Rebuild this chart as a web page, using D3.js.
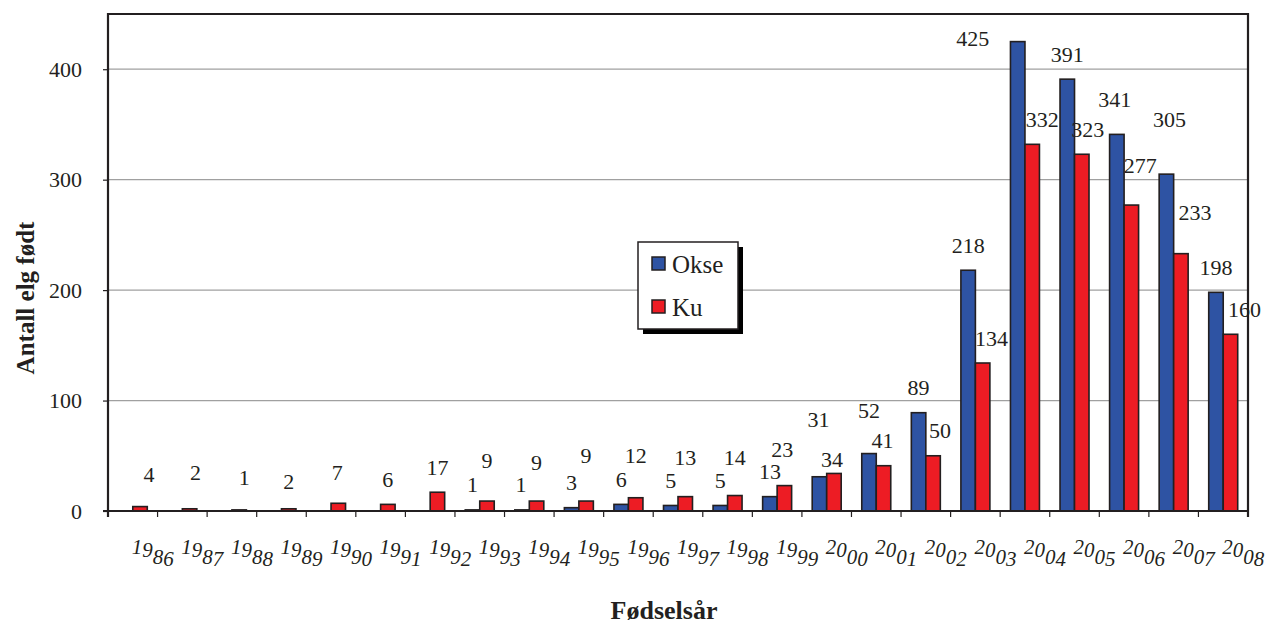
<!DOCTYPE html>
<html>
<head>
<meta charset="utf-8">
<script src="https://cdn.jsdelivr.net/npm/d3@7"></script>
<style>
  html, body { margin: 0; padding: 0; background: #fff; }
  svg { display: block; }
  svg text { font-family: "Times New Roman", "Liberation Serif", Times, "DejaVu Serif", serif; }
</style>
</head>
<body>
<svg id="chart" width="1269" height="626"></svg>
<script>
// Fødselsår (birth year) for each group
const years = ["1986","1987","1988","1989","1990","1991","1992","1993","1994","1995","1996","1997",
               "1998","1999","2000","2001","2002","2003","2004","2005","2006","2007","2008"];
// Antall elg født: bulls (Okse) and cows (Ku)
const okse = [0,0,0,0,0,0,0,1,1,3,6,5,5,13,31,52,89,218,425,391,341,305,198];
const ku   = [4,2,1,2,7,6,17,9,9,9,12,13,14,23,34,41,50,134,332,323,277,233,160];
const seriesNames = ["Okse", "Ku"];
const yTicks = [0, 100, 200, 300, 400];

// Hand placement of value labels relative to the default spot above each bar [dx, dy]
const okseLabelShift = [[0,0],[0,0],[0,0],[0,0],[0,0],[0,0],[0,0],[0,0],[-1,0],[0,0],[0,0],[0,0],
                        [0,0],[0,0],[-1,-32],[0,-18],[0,0],[0,0],[-45,22],[0,0],[-2,-10],[3,-30],[0,0]];
const kuLabelShift   = [[9,-7],[6,-11],[5,-7],[0,-2],[-1,-6],[0,0],[0,0],[0,-16],[0,-14],[0,-21],[0,-17],[0,-14],
                        [0,-13],[-2,-11],[-2,11],[-1,0],[7,0],[9,0],[10,0],[6,0],[9,-15],[14,-16],[14,0]];

const colors = { Okse: "#2E53A3", Ku: "#ED1C24" };
const FONT = "'Times New Roman', 'Liberation Serif', Times, 'DejaVu Serif', serif";
const INK = "#231f20";

const svg = d3.select("#chart");
const plot = { left: 108, right: 1248, top: 14, bottom: 511 };

const x = d3.scaleBand().domain(years).range([plot.left, plot.right]).padding(0);
const xInner = d3.scaleBand().domain(seriesNames).range([0, x.bandwidth()])
  .paddingInner(0).paddingOuter(0.71);
const y = d3.scaleLinear().domain([0, 450]).range([plot.bottom, plot.top]);

// Horizontal gridlines
svg.append("g")
  .selectAll("line")
  .data(yTicks.filter(d => d > 0))
  .join("line")
  .attr("x1", plot.left).attr("x2", plot.right)
  .attr("y1", d => y(d)).attr("y2", d => y(d))
  .attr("stroke", "#a0a0a0").attr("stroke-width", 1.2);

// Bars
const rows = years.map((yr, i) => ({ year: yr, i, values: [
  { key: "Okse", v: okse[i], shift: okseLabelShift[i] },
  { key: "Ku", v: ku[i], shift: kuLabelShift[i] }
]}));

const groups = svg.append("g").selectAll("g")
  .data(rows)
  .join("g")
  .attr("transform", d => `translate(${x(d.year)},0)`);

groups.selectAll("rect")
  .data(d => d.values.filter(v => v.v > 0))
  .join("rect")
  .attr("x", d => xInner(d.key))
  .attr("width", xInner.bandwidth())
  .attr("y", d => y(d.v))
  .attr("height", d => y(0) - y(d.v))
  .attr("fill", d => colors[d.key])
  .attr("stroke", INK)
  .attr("stroke-width", 1.6);

// Value labels
groups.selectAll("text")
  .data(d => d.values.filter(v => v.v > 0))
  .join("text")
  .attr("x", d => xInner(d.key) + xInner.bandwidth() / 2 + d.shift[0])
  .attr("y", d => y(d.v) - 17.5 + d.shift[1])
  .attr("text-anchor", "middle")
  .attr("font-family", FONT)
  .attr("font-size", 22)
  .attr("fill", INK)
  .text(d => d.v);

// Y axis
const yAxis = d3.axisLeft(y).tickValues(yTicks).tickSize(5).tickPadding(21);
const gy = svg.append("g").attr("transform", `translate(${plot.left},0)`).call(yAxis)
  .attr("font-family", FONT).attr("font-size", 22);
gy.select(".domain").remove();
gy.selectAll(".tick line").attr("stroke", INK).attr("stroke-width", 1.2);
gy.selectAll(".tick text").attr("fill", INK).attr("dy", "0.33em");

// X axis ticks at the group boundaries
const gx = svg.append("g").attr("transform", `translate(0,${plot.bottom})`);
gx.selectAll("line.boundary")
  .data(years.concat(["end"]))
  .join("line")
  .attr("class", "boundary")
  .attr("x1", (d, i) => i < years.length ? x(d) : plot.right)
  .attr("x2", (d, i) => i < years.length ? x(d) : plot.right)
  .attr("y1", 0).attr("y2", 6)
  .attr("stroke", INK).attr("stroke-width", 1.2);

// Slanted year labels, each digit stepping downward
const charDrop = [0, 2.5, 7, 2.5];
gx.selectAll("text.year")
  .data(years)
  .join("text")
  .attr("class", "year")
  .attr("x", d => x(d) + x.bandwidth() / 2 - 1)
  .attr("y", 43)
  .attr("font-family", FONT)
  .attr("font-size", 21)
  .attr("font-style", "italic")
  .attr("fill", INK)
  .selectAll("tspan")
  .data(d => d.split(""))
  .join("tspan")
  .attr("dy", (c, i) => charDrop[i])
  .text(c => c);

// Plot frame: left, top and right edges, plus the baseline
svg.append("path")
  .attr("d", `M${plot.left},${plot.bottom + 6} V${plot.top} H${plot.right} V${plot.bottom + 6}`)
  .attr("fill", "none").attr("stroke", INK).attr("stroke-width", 2.2);
svg.append("line")
  .attr("x1", plot.left - 5).attr("x2", plot.right)
  .attr("y1", plot.bottom).attr("y2", plot.bottom)
  .attr("stroke", INK).attr("stroke-width", 2.2);

// Axis titles
svg.append("text")
  .attr("transform", "translate(34,298) rotate(-90)")
  .attr("text-anchor", "middle")
  .attr("font-family", FONT)
  .attr("font-size", 25).attr("font-weight", "bold").attr("fill", INK)
  .text("Antall elg født");

svg.append("text")
  .attr("x", 664).attr("y", 619)
  .attr("text-anchor", "middle")
  .attr("font-family", FONT)
  .attr("font-size", 26).attr("font-weight", "bold").attr("fill", INK)
  .text("Fødselsår");

// Legend with drop shadow
const legend = svg.append("g").attr("transform", "translate(638,242)");
legend.append("rect").attr("x", 5).attr("y", 5).attr("width", 100).attr("height", 87).attr("fill", "#000");
legend.append("rect").attr("x", 0).attr("y", 0).attr("width", 100).attr("height", 87)
  .attr("fill", "#fff").attr("stroke", INK).attr("stroke-width", 1.5);
const items = legend.selectAll("g.item")
  .data(seriesNames)
  .join("g").attr("class", "item")
  .attr("transform", (d, i) => `translate(14,${15 + i * 43})`);
items.append("rect").attr("width", 13).attr("height", 13)
  .attr("fill", d => colors[d]).attr("stroke", INK).attr("stroke-width", 1.5);
items.append("text").attr("x", 20).attr("y", 16)
  .attr("font-family", FONT)
  .attr("font-size", 25).attr("fill", INK)
  .text(d => d);
</script>
</body>
</html>
